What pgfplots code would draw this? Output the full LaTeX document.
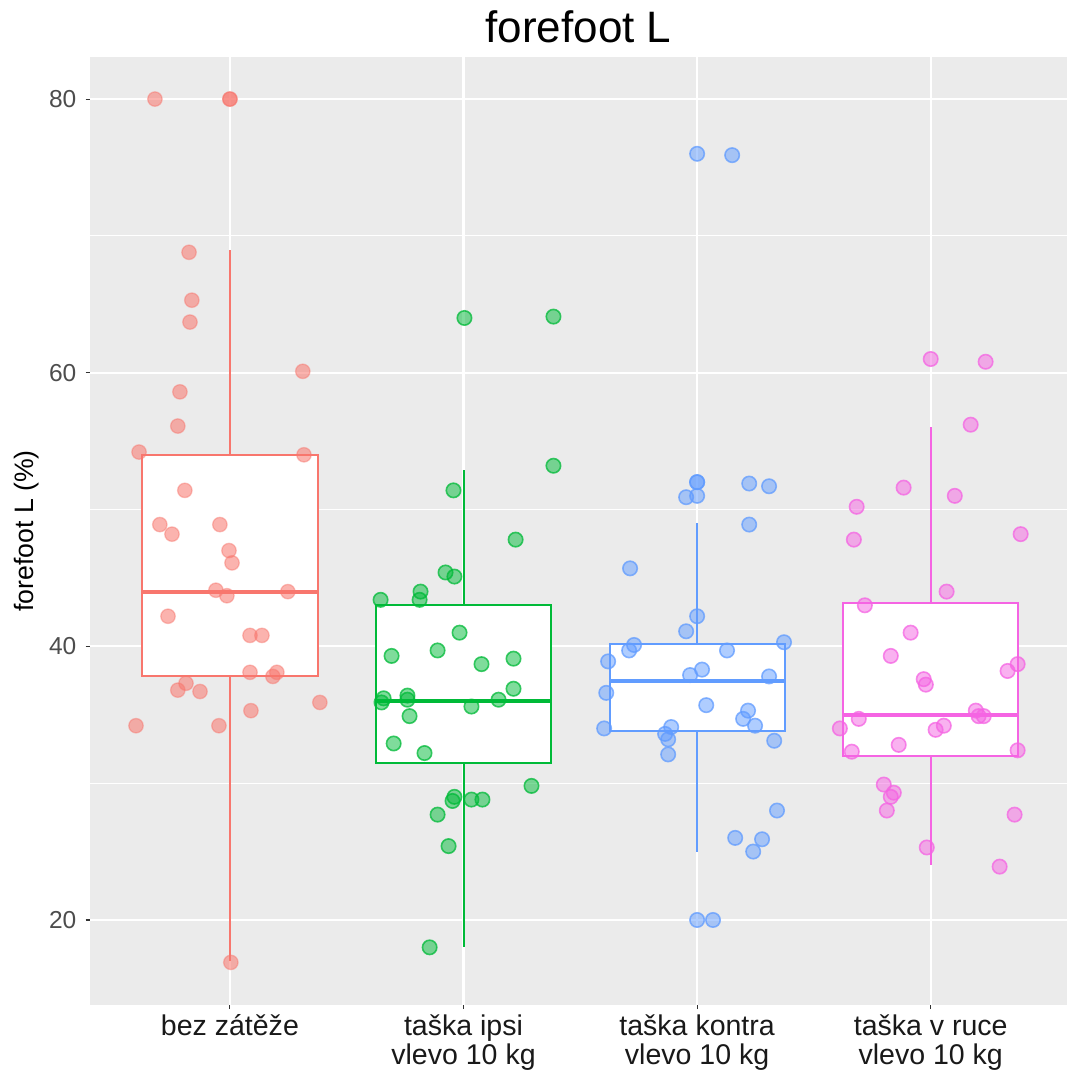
\documentclass[border=0pt]{standalone}
\usepackage{pgfplots}
\pgfplotsset{compat=1.18}
\usepgfplotslibrary{statistics}
\usepackage{fontspec}
\setmainfont{Liberation Sans}
\definecolor{c1}{HTML}{F8766D}
\definecolor{c2}{HTML}{00BA38}
\definecolor{c3}{HTML}{619CFF}
\definecolor{c4}{HTML}{F564E3}
\definecolor{panel}{HTML}{EBEBEB}
\definecolor{grey30}{HTML}{4D4D4D}
\definecolor{grey20}{HTML}{333333}

\pgfplotstableread{
x y
0.679 80.0
1.000 80.0
1.000 80.0
0.825 68.8
0.837 65.3
0.829 63.7
1.312 60.1
0.786 58.6
0.777 56.1
0.611 54.2
1.317 54.0
0.807 51.4
0.700 48.9
0.752 48.2
0.957 48.9
0.996 47.0
1.009 46.1
0.940 44.1
0.987 43.7
1.248 44.0
0.735 42.2
1.086 40.8
1.137 40.8
1.086 38.1
1.201 38.1
1.184 37.8
0.812 37.3
0.777 36.8
0.872 36.7
1.090 35.3
1.385 35.9
0.598 34.2
0.953 34.2
1.004 16.9
}\gA

\pgfplotstableread{
x y
2.004 64.0
2.385 64.1
2.385 53.2
1.957 51.4
2.223 47.8
1.923 45.4
1.961 45.1
1.816 44.0
1.812 43.4
1.645 43.4
1.983 41.0
1.692 39.3
1.889 39.7
2.077 38.7
2.214 39.1
2.214 36.9
1.658 36.2
1.649 35.9
1.760 36.4
1.760 36.1
2.034 35.6
2.150 36.1
1.769 34.9
1.701 32.9
1.833 32.2
2.291 29.8
1.961 29.0
1.953 28.7
2.034 28.8
2.081 28.8
1.889 27.7
1.936 25.4
1.855 18.0
}\gB

\pgfplotstableread{
x y
3.000 76.0
3.150 75.9
3.000 52.0
3.000 52.0
3.223 51.9
3.308 51.7
2.953 50.9
3.000 51.0
3.223 48.9
2.713 45.7
3.000 42.2
2.953 41.1
2.730 40.1
2.709 39.7
3.128 39.7
3.372 40.3
2.619 38.9
3.021 38.3
2.970 37.9
3.308 37.8
2.611 36.6
3.039 35.7
3.218 35.3
3.197 34.7
3.248 34.2
2.602 34.0
2.889 34.1
2.863 33.6
2.876 33.2
3.330 33.1
2.876 32.1
3.342 28.0
3.163 26.0
3.278 25.9
3.240 25.0
3.000 20.0
3.068 20.0
}\gC

\pgfplotstableread{
x y
4.000 61.0
4.235 60.8
4.171 56.2
3.884 51.6
4.103 51.0
3.683 50.2
3.671 47.8
4.385 48.2
4.068 44.0
3.718 43.0
3.914 41.0
3.829 39.3
4.372 38.7
4.329 38.2
3.970 37.6
3.979 37.2
4.193 35.3
4.205 34.9
4.227 34.9
3.692 34.7
3.611 34.0
4.056 34.2
4.021 33.9
3.863 32.8
3.662 32.3
4.372 32.4
3.799 29.9
3.842 29.3
3.829 29.0
3.812 28.0
4.359 27.7
3.983 25.3
4.295 23.9
}\gD

\begin{document}
\begin{tikzpicture}
\begin{axis}[
  scale only axis,
  width=366.4pt, height=355.5pt,
  xmin=0.401, xmax=4.583, ymin=13.79, ymax=83.07,
  axis background/.style={fill=panel},
  axis line style={draw=none},
  xtick={1,2,3,4},
  xticklabels={bez zátěže, {taška ipsi\\vlevo 10 kg}, {taška kontra\\vlevo 10 kg}, {taška v ruce\\vlevo 10 kg}},
  xticklabel style={align=center, font=\fontsize{10.7}{10.9}\selectfont, text=black!90, inner sep=0pt, yshift=-1.7pt},
  ytick={20,40,60,80},
  minor ytick={30,50,70},
  yticklabel style={font=\fontsize{9.2}{11}\selectfont, text=grey30},
  /pgf/number format/assume math mode=true,
  grid=both,
  major grid style={white, line width=0.8pt},
  minor grid style={white, line width=0.4pt},
  tick pos=left,
  tick align=outside,
  major tick length=1.6pt,
  minor tick length=0pt,
  tick style={grey20, line width=0.4pt},
  ylabel={forefoot L (\%)},
  ylabel shift=-3pt,
  ylabel style={font=\fontsize{10}{12}\selectfont},
  title={forefoot L},
  every axis title shift=0pt,
  title style={font=\fontsize{16.5}{19}\selectfont, at={(0.5,1)}, anchor=base, inner sep=0pt, yshift=5.6pt},
  boxplot/draw direction=y,
  boxplot/every median/.style={line width=1.5pt},
]
\addplot[draw=c1, fill=white, line width=0.75pt, boxplot prepared={draw position=1, lower whisker=17.0, lower quartile=37.8, median=44.0, upper quartile=54.0, upper whisker=69.0, box extend=0.75, whisker extend=0}] coordinates {};
\addplot[draw=c2, fill=white, line width=0.75pt, boxplot prepared={draw position=2, lower whisker=18.0, lower quartile=31.5, median=36.0, upper quartile=43.0, upper whisker=52.9, box extend=0.75, whisker extend=0}] coordinates {};
\addplot[draw=c3, fill=white, line width=0.75pt, boxplot prepared={draw position=3, lower whisker=25.0, lower quartile=33.8, median=37.5, upper quartile=40.2, upper whisker=49.0, box extend=0.75, whisker extend=0}] coordinates {};
\addplot[draw=c4, fill=white, line width=0.75pt, boxplot prepared={draw position=4, lower whisker=24.0, lower quartile=32.0, median=35.0, upper quartile=43.2, upper whisker=56.0, box extend=0.75, whisker extend=0}] coordinates {};

\addplot[only marks, mark=*, mark size=2.7pt, mark options={fill=c1, fill opacity=0.55, draw=c1, draw opacity=0.45, line width=0.5pt}] table[x=x,y=y] {\gA};
\addplot[only marks, mark=*, mark size=2.7pt, mark options={fill=c2, fill opacity=0.5, draw=c2, draw opacity=0.75, line width=0.6pt}] table[x=x,y=y] {\gB};
\addplot[only marks, mark=*, mark size=2.7pt, mark options={fill=c3, fill opacity=0.5, draw=c3, draw opacity=0.75, line width=0.6pt}] table[x=x,y=y] {\gC};
\addplot[only marks, mark=*, mark size=2.7pt, mark options={fill=c4, fill opacity=0.5, draw=c4, draw opacity=0.75, line width=0.6pt}] table[x=x,y=y] {\gD};
\end{axis}
\path (current axis.north west) ++(-33.75pt,21.4pt) coordinate (bbtl);
\path (current axis.south east) ++(0pt,-25.9pt) coordinate (bbbr);
\path (bbtl) (bbbr);
\end{tikzpicture}
\end{document}
